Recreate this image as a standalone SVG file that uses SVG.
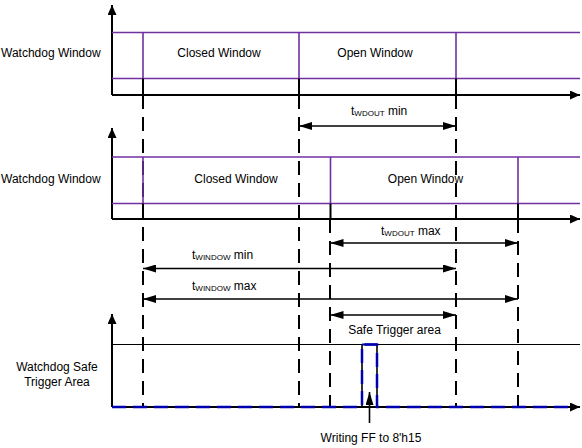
<svg xmlns="http://www.w3.org/2000/svg" width="582" height="448" viewBox="0 0 582 448">
<style>
text{font-family:"Liberation Sans",Arial,sans-serif;font-size:12px;fill:#000}
.sub{font-size:8px}
.axis{stroke:#000;stroke-width:2;fill:none}
.purple{stroke:#7030A0;stroke-width:1.6;fill:none}
.tick{stroke:#000;stroke-width:2;fill:none}
.dash{stroke:#000;stroke-width:2;stroke-dasharray:14 8;fill:none}
.dim{stroke:#000;stroke-width:1.6;fill:none;marker-start:url(#dimhead);marker-end:url(#dimhead)}
.dimr{stroke:#000;stroke-width:1.6;fill:none;marker-end:url(#dimhead)}
.thin{stroke:#000;stroke-width:1.2;fill:none}
.sig{stroke:#0000B0;stroke-width:2.5;fill:none;stroke-dasharray:14 7}
</style>
<defs>
<marker id="dimhead" viewBox="0 0 13 8" refX="13" refY="4" markerWidth="13" markerHeight="8" markerUnits="userSpaceOnUse" orient="auto-start-reverse">
<path d="M0,0 L13,4 L0,8 z" fill="#000"/>
</marker>
<marker id="axhead" viewBox="0 0 10 9" refX="10" refY="4.5" markerWidth="10" markerHeight="9" markerUnits="userSpaceOnUse" orient="auto">
<path d="M0,0 L10,4.5 L0,9 z" fill="#000"/>
</marker>
</defs>

<g id="guides">
<line class="dash" x1="143" y1="95" x2="143" y2="407"/>
<line class="dash" x1="299" y1="95" x2="299" y2="407"/>
<line class="dash" x1="456" y1="95" x2="456" y2="407"/>
<line class="dash" x1="330" y1="219" x2="330" y2="407"/>
<line class="dash" x1="518" y1="219" x2="518" y2="407"/>
</g>

<g id="graph1">
<path class="axis" d="M112,95 V5" marker-end="url(#axhead)"/>
<path class="axis" d="M112,95 H580" marker-end="url(#axhead)"/>
<line class="purple" x1="112" y1="32.5" x2="580" y2="32.5"/>
<line class="purple" x1="112" y1="78.5" x2="580" y2="78.5"/>
<line class="purple" x1="143" y1="32.5" x2="143" y2="78.5"/>
<line class="purple" x1="299" y1="32.5" x2="299" y2="78.5"/>
<line class="purple" x1="456" y1="32.5" x2="456" y2="78.5"/>
<line class="tick" x1="143" y1="78.5" x2="143" y2="95"/>
<line class="tick" x1="299" y1="78.5" x2="299" y2="95"/>
<line class="tick" x1="456" y1="78.5" x2="456" y2="95"/>
<text x="1" y="57">Watchdog Window</text>
<text x="219" y="57" text-anchor="middle">Closed Window</text>
<text x="375" y="57" text-anchor="middle">Open Window</text>
</g>

<g id="graph2">
<path class="axis" d="M112,219 V128" marker-end="url(#axhead)"/>
<path class="axis" d="M112,219 H580" marker-end="url(#axhead)"/>
<line class="purple" x1="112" y1="157" x2="580" y2="157"/>
<line class="purple" x1="112" y1="203.5" x2="580" y2="203.5"/>
<line class="purple" x1="143" y1="157" x2="143" y2="203.5"/>
<line class="purple" x1="330.5" y1="157" x2="330.5" y2="203.5"/>
<line class="purple" x1="518" y1="157" x2="518" y2="203.5"/>
<line class="tick" x1="143" y1="203.5" x2="143" y2="219"/>
<line class="tick" x1="330.5" y1="203.5" x2="330.5" y2="219"/>
<line class="tick" x1="518" y1="203.5" x2="518" y2="219"/>
<text x="1" y="183">Watchdog Window</text>
<text x="236" y="183" text-anchor="middle">Closed Window</text>
<text x="425.5" y="183" text-anchor="middle">Open Window</text>
</g>

<g id="graph3">
<path class="axis" d="M112,407 V314" marker-end="url(#axhead)"/>
<line class="thin" x1="112" y1="344.5" x2="580" y2="344.5"/>
<path class="axis" d="M112,407 H580" marker-end="url(#axhead)"/>
<path class="tick" d="M362,407 V344.5 M377,344.5 V407" style="stroke-width:1.6"/>
<path class="sig" d="M112,407 H362 V344.5 H377 V407 H571"/>
<line x1="362" y1="344.5" x2="377" y2="344.5" stroke="#0000B0" stroke-width="2"/>
<text x="57" y="371" text-anchor="middle">Watchdog Safe</text>
<text x="57" y="386" text-anchor="middle">Trigger Area</text>
<text x="371" y="442" text-anchor="middle">Writing FF to 8'h15</text>
</g>

<g id="connectors">
<line class="dim" x1="299" y1="126" x2="456" y2="126"/>
<line class="dim" x1="330.5" y1="243" x2="518" y2="243"/>
<line class="dim" x1="143" y1="268.5" x2="456" y2="268.5"/>
<line class="dim" x1="143" y1="299" x2="518" y2="299"/>
<line class="dim" x1="330.5" y1="315" x2="456" y2="315"/>
<line class="dimr" x1="369.5" y1="423" x2="369.5" y2="392"/>
</g>

<g id="labels">
<text x="351" y="115">t<tspan class="sub" dy="1">WDOUT</tspan><tspan dy="-1"> min</tspan></text>
<text x="381" y="235">t<tspan class="sub" dy="1">WDOUT</tspan><tspan dy="-1"> max</tspan></text>
<text x="192" y="259">t<tspan class="sub" dy="1">WINDOW</tspan><tspan dy="-1"> min</tspan></text>
<text x="192" y="290">t<tspan class="sub" dy="1">WINDOW</tspan><tspan dy="-1"> max</tspan></text>
<text x="394.5" y="334" text-anchor="middle">Safe Trigger area</text>
</g>
</svg>
